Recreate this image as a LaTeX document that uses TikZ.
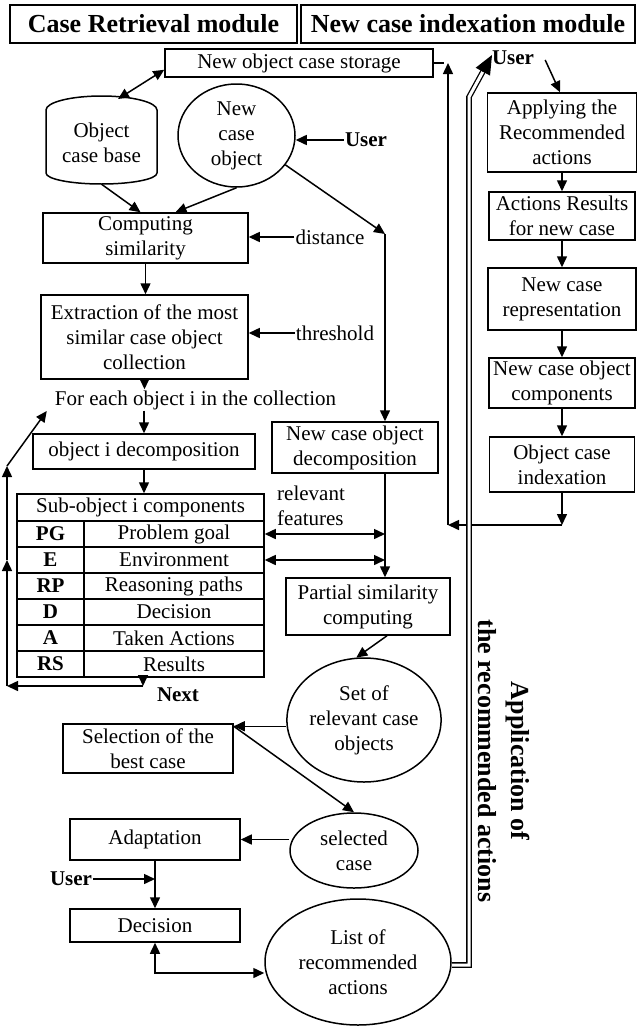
\documentclass[tikz,border=0pt]{standalone}
\usepackage{fontspec}
\setmainfont{Liberation Serif}
\usetikzlibrary{arrows.meta,shapes.geometric,calc}
\begin{document}
\begin{tikzpicture}[x=1pt,y=-1pt,
  every node/.style={font=\fontsize{21}{25}\selectfont, align=center, inner sep=1pt},
  box/.style={draw, rectangle, line width=1.5pt, inner sep=2pt},
  sz/.style 2 args={minimum width=#1pt, minimum height=#2pt},
  ell/.style={draw, ellipse, line width=1.5pt, inner sep=0pt},
  hdr/.style={box, font=\fontsize{26}{30}\selectfont\bfseries},
  bold/.style={font=\fontsize{21}{25}\selectfont\bfseries},
  ln/.style={line width=1.5pt},
  arr/.style={line width=1.5pt, -{Triangle[length=11pt,width=10pt]}},
  darr/.style={line width=1.5pt, {Triangle[length=11pt,width=10pt]}-{Triangle[length=11pt,width=10pt]}},
]
\useasboundingbox (0,0) rectangle (639,1026);

% headers
\node[hdr, sz={287}{38}] (h1) at (153.5,24) {Case Retrieval module};
\node[hdr, sz={334}{38}] (h2) at (468,24) {New case indexation module};

% left column
\node[box, sz={268}{28}] (storage) at (299,63) {New object case storage};
\node[sz={111}{82}] (cyl) at (101.5,143) {Object\\case base};
\draw[ln] (46,110) -- (46,173) arc[start angle=180, end angle=360, x radius=55.5pt, y radius=11pt]
  -- (157,110) arc[start angle=0, end angle=180, x radius=55.5pt, y radius=14pt];
\node[ell, sz={117}{103}] (circ) at (236.5,135.5) {New\\case\\object};
\node[bold] (user1) at (366,140) {User};
\node[box, sz={205}{50}] (comp) at (145.5,238) {Computing\\similarity};
\node (dist) at (330,237) {distance};
\node[box, sz={207}{84}] (extr) at (144.5,337) {Extraction of the most\\similar case object\\collection};
\node (thr) at (335,333) {threshold};
\node (foreach) at (195.5,400) {For each object i in the collection};
\node[box, sz={222}{35}] (decomp) at (144,451.5) {object i decomposition};

% table
\node[box, sz={247}{183}] (tab) at (140.5,585.5) {};
\foreach \yy in {521,547,573,599,625,651} \draw[ln] (17,\yy) -- (264,\yy);
\draw[ln] (84,521) -- (84,677);
\node (tabh) at (140.5,507.5) {Sub-object i components};
\node[bold] (pgL) at (50.5,534) {PG};   \node (pgT) at (174,534) {Problem goal};
\node[bold] (eL) at (50.5,560) {E};     \node (eT) at (174,560) {Environment};
\node[bold] (rpL) at (50.5,586) {RP};   \node (rpT) at (174,586) {Reasoning paths};
\node[bold] (dL) at (50.5,612) {D};     \node (dT) at (174,612) {Decision};
\node[bold] (aL) at (50.5,638) {A};     \node (aT) at (174,638) {Taken Actions};
\node[bold] (rsL) at (50.5,664) {RS};   \node (rsT) at (174,664) {Results};
\node[bold] (next) at (178,695) {Next};

% middle
\node[box, sz={166}{51}] (ncdec) at (355,447.5) {New case object\\decomposition};
\node[anchor=west, align=left] (relf) at (276,506) {relevant\\features};
\node[box, sz={164}{57}] (part) at (368,606.5) {Partial similarity\\computing};
\node[ell, sz={152}{124}] (set) at (364,720) {Set of\\relevant case\\objects};
\node[box, sz={170}{49}] (sel) at (148,748.5) {Selection of the\\best case};
\node[ell, sz={128}{75}] (selcase) at (354,850.5) {selected\\case};
\node[box, sz={170}{41}] (adap) at (155,839.5) {Adaptation};
\node[bold] (user2) at (71,879) {User};
\node[box, sz={170}{33}] (dec) at (155,925.5) {Decision};
\node[ell, sz={186}{126}] (list) at (358,962) {List of\\recommended\\actions};

% right column
\node[bold] (user3) at (513,58) {User};
\node[box, sz={149}{79}] (apply) at (562,132.5) {Applying the\\Recommended\\actions};
\node[box, sz={146}{48}] (actres) at (562,216) {Actions Results\\for new case};
\node[box, sz={148}{62}] (repr) at (562,299) {New case\\representation};
\node[box, sz={146}{50}] (comps) at (562,383) {New case object\\components};
\node[box, sz={145}{55}] (index) at (562,464.5) {Object case\\indexation};
\node[font=\fontsize{26}{33}\selectfont\bfseries, rotate=-90] (vt) at (504,761) {Application of\\the recommended actions};

% coordinates
\coordinate (cyltop) at (118,99);
\coordinate (k1) at (385,234);
\coordinate (v1) at (k1 |- ncdec.south);
\coordinate (v2) at (k1 |- part.north);
\coordinate (ia) at (index.south |- 0,525);
\coordinate (ib) at (448,525);
\coordinate (ic) at (ib |- storage.east);
\coordinate (n1) at (143,686);
\coordinate (l1) at (7,686);
\coordinate (l2) at (7,560);
\coordinate (l3) at (7,466);
\coordinate (selc) at ($(sel.north east)+(0,3)$);
\coordinate (d0) at ($(list.east)+(0,3)$);
\coordinate (d1) at (d0 -| 469,0);
\coordinate (d2) at (469,97);
\coordinate (dtip) at (492,55);

% connectors left
\draw[darr] ($(storage.south west)+(0,-8)$) -- (cyltop);
\draw[arr] (user1.west) -- (user1.west -| circ.east);
\draw[arr] (cyl.south) -- ($(comp.north)+(-5,0)$);
\draw[arr] (circ.south) -- ($(comp.north)+(30,0)$);
\draw[arr] (circ.-31) -- (k1);
\draw[arr] (k1) -- (k1 |- ncdec.north);
\draw[arr] (dist.west) -- (dist.west -| comp.east);
\draw[arr] (comp.south) -- (comp.south |- extr.north);
\draw[arr] (thr.west) -- (thr.west -| extr.east);
\draw[arr] (extr.south) -- (extr.south |- foreach.north);
\draw[arr] (foreach.south -| decomp.north) -- (decomp.north);
\draw[arr] (decomp.south) -- (decomp.south |- tab.north);
\draw[darr] (tab.east |- pgT) -- (v1 |- pgT);
\draw[darr] (tab.east |- eT) -- (v1 |- eT);
\draw[arr] (v1) -- (v2);
\draw[arr] (tab.south -| n1) -- (n1);
\draw[arr] (n1) -- (l1);
\draw[arr] (l1) -- (l2);
\draw[arr] (l2) -- (l3);
\draw[arr] (l3) -- ($(foreach.west)+(-7,11)$);
\draw[arr] ($(part.south)+(19,0)$) -- (set.97);
\draw[arr] (set.west |- selc) -- (selc);
\draw[arr] (selc) -- (selcase.north);
\draw[arr] (adap.east -| selcase.west) -- (adap.east);
\draw[arr] (user2.east) -- (user2.east -| adap.south);
\draw[arr] (adap.south) -- (dec.north);
\draw[darr] (dec.south) |- ($(list.west)+(0,11)$);

% right connectors
\draw[arr] ($(user3.east)+(10,2)$) -- ($(apply.north)+(-2,0)$);
\draw[arr] (apply.south) -- (actres.north);
\draw[arr] (actres.south) -- (repr.north);
\draw[arr] (repr.south) -- (comps.north);
\draw[arr] (comps.south) -- (index.north);
\draw[arr] (index.south) -- (ia);
\draw[arr] (ia) -- (ib);
\draw[arr] (ib) -- (ic);
\draw[ln] (storage.east) -- ++(10,0);

% double connector
\draw[line width=1.3pt, double, double distance=3pt] (d0) -- (d1) -- (d2) -- ($(d2)!0.7!(dtip)$);
\draw[line width=1.3pt, -{Triangle[length=19pt,width=16pt]}] ($(d2)!0.6!(dtip)$) -- (dtip);
\end{tikzpicture}
\end{document}
